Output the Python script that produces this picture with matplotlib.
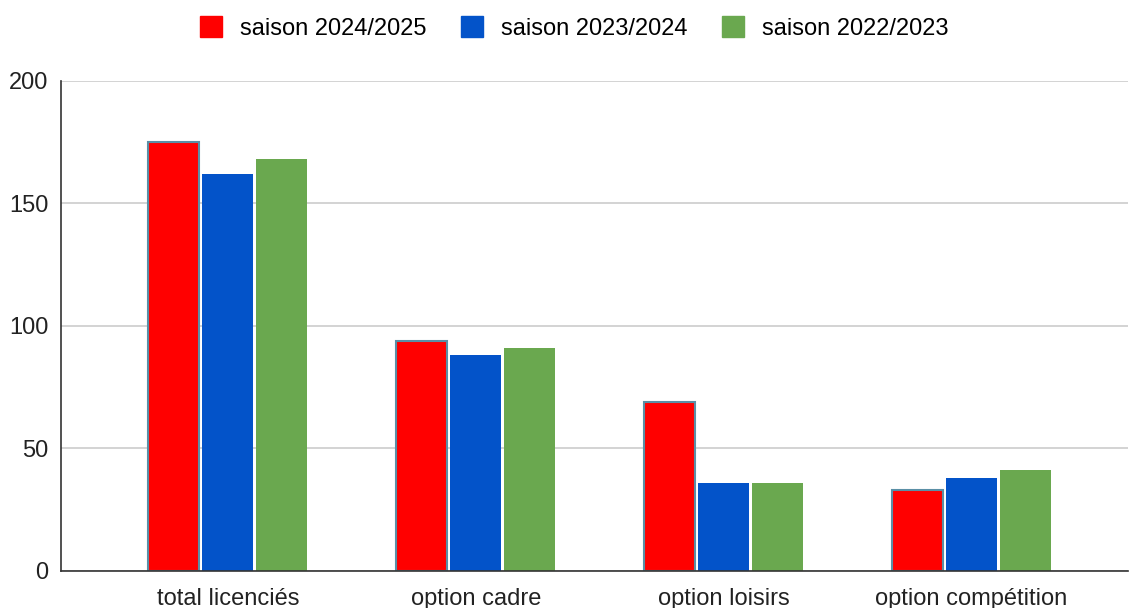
import matplotlib.pyplot as plt
import numpy as np
from matplotlib.patches import Patch

categories = ['total licenciés', 'option cadre', 'option loisirs', 'option compétition']
seasons = ['saison 2024/2025', 'saison 2023/2024', 'saison 2022/2023']
values_2425 = [175, 94, 69, 33]
values_2324 = [162, 88, 36, 38]
values_2223 = [168, 91, 36, 41]
colors = ['#ff0000', '#0353c9', '#6aa84f']

plt.rcParams['font.family'] = ['Liberation Sans', 'DejaVu Sans']

fig = plt.figure(figsize=(11.3, 6.08), dpi=100)
ax = fig.add_axes([0.054, 0.061, 0.944, 0.806])

x = np.arange(len(categories))
width = 0.205
offset = 0.218
series = [values_2425, values_2324, values_2223]
for i, (vals, col) in enumerate(zip(series, colors)):
    edge = '#5a8fa6' if i == 0 else col
    ax.bar(x + (i - 1) * offset, vals, width, color=col,
           edgecolor=edge, linewidth=1.5 if i == 0 else 0, zorder=3)

ax.set_ylim(0, 200)
ax.set_xlim(-0.673, 3.63)
ax.set_yticks([0, 50, 100, 150, 200])
ax.set_xticks(x)
ax.set_xticklabels(categories, fontsize=17, color='#222222')
ax.tick_params(axis='y', labelsize=17, labelcolor='#222222', length=0, pad=9)
ax.tick_params(axis='x', length=0, pad=12)
ax.grid(axis='y', color='#cccccc', linewidth=1.2, zorder=0)
for s in ['top', 'right']:
    ax.spines[s].set_visible(False)
ax.spines['left'].set_color('#333333')
ax.spines['left'].set_linewidth(1.2)
ax.spines['bottom'].set_color('#333333')
ax.spines['bottom'].set_linewidth(1.2)
ax.spines['bottom'].set_zorder(4)

handles = [Patch(facecolor=c, edgecolor=c) for c in colors]
fig.legend(handles, seasons, loc='upper center', bbox_to_anchor=(0.508, 1.008),
           ncol=3, frameon=False, fontsize=17, handlelength=0.95,
           handleheight=0.95, handletextpad=0.75, columnspacing=1.45)

fig.savefig('out.png', dpi=100)
